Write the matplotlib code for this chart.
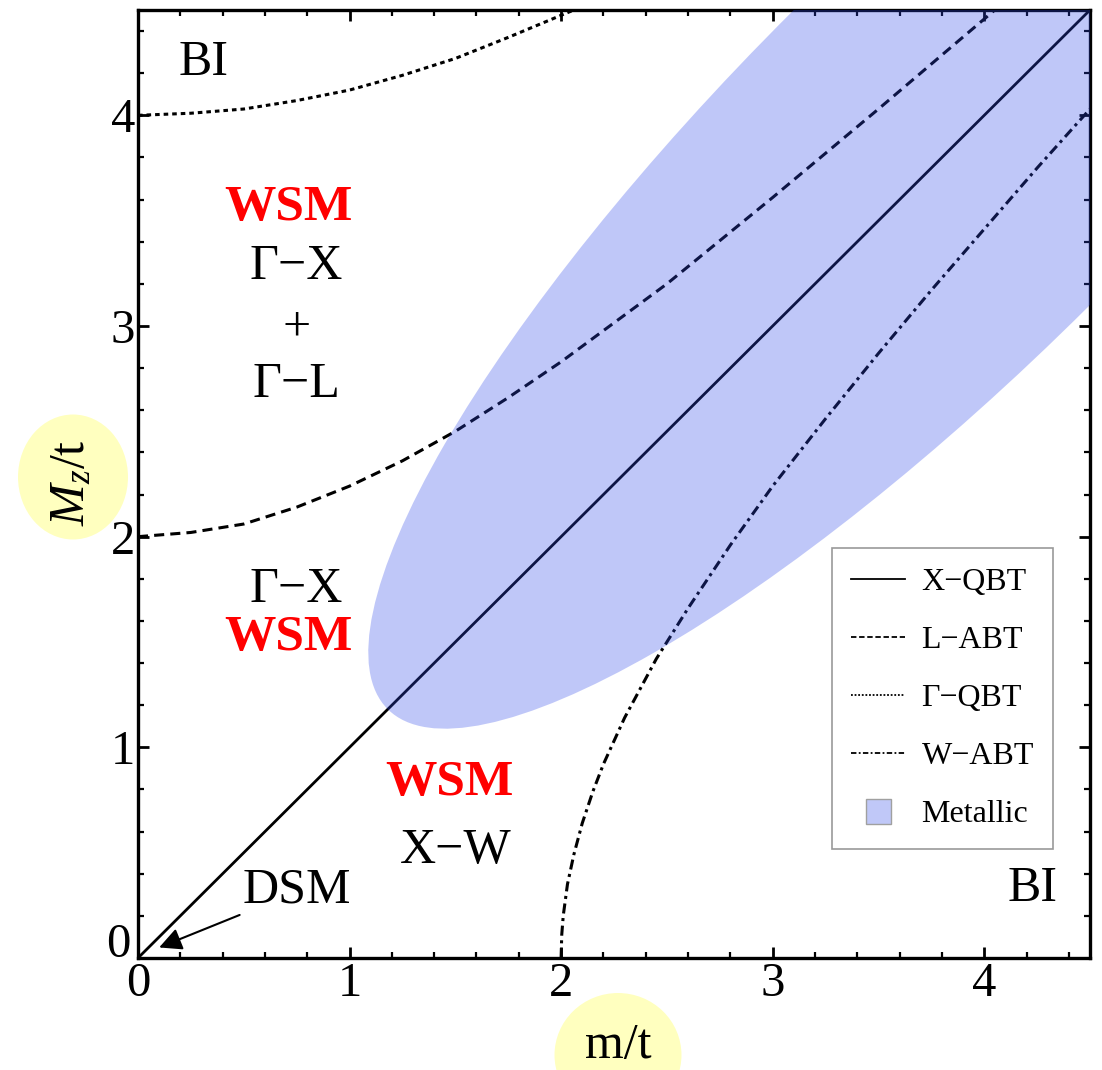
import matplotlib
matplotlib.use("Agg")
import matplotlib.pyplot as plt
from matplotlib.patches import Ellipse
from matplotlib.lines import Line2D

plt.rcParams['font.family'] = ['Liberation Serif', 'DejaVu Serif']
plt.rcParams['mathtext.fontset'] = 'custom'
plt.rcParams['mathtext.rm'] = 'Liberation Serif'
plt.rcParams['mathtext.it'] = 'Liberation Serif:italic'

# === transition lines (m/t, Mz/t) ===
x_qbt_m = [0.0, 4.5]
x_qbt_M = [0.0, 4.5]

l_abt_m = [0.0, 0.25, 0.5, 0.75, 1.0, 1.25, 1.5, 1.75, 2.0, 2.5, 3.0, 3.5, 4.05]
l_abt_M = [2.0, 2.02, 2.06, 2.14, 2.24, 2.36, 2.5, 2.66, 2.83, 3.2, 3.61, 4.03, 4.5]

g_qbt_m = [0.0, 0.25, 0.5, 0.75, 1.0, 1.25, 1.5, 1.75, 2.06]
g_qbt_M = [4.0, 4.01, 4.03, 4.07, 4.12, 4.19, 4.27, 4.37, 4.5]

w_abt_m = [2.0, 2.003, 2.01, 2.03, 2.06, 2.1, 2.15, 2.2, 2.3, 2.45, 2.6, 2.8,
           3.0, 3.25, 3.5, 3.75, 4.0, 4.25, 4.5]
w_abt_M = [0.0, 0.11, 0.2, 0.35, 0.49, 0.64, 0.79, 0.92, 1.14, 1.42, 1.66, 1.96,
           2.24, 2.56, 2.87, 3.17, 3.46, 3.75, 4.03]

# metallic region (ellipse along the diagonal)
metal_center = (3.79, 3.79)
metal_width = 7.38
metal_height = 1.98
metal_angle = 45

# region labels
region_labels = [
    ("BI", 0.31, 4.25, 'black', 'normal'),
    ("WSM", 0.71, 3.56, 'red', 'bold'),
    ("Γ−X", 0.75, 3.28, 'black', 'normal'),
    ("+", 0.75, 2.99, 'black', 'normal'),
    ("Γ−L", 0.75, 2.72, 'black', 'normal'),
    ("Γ−X", 0.75, 1.75, 'black', 'normal'),
    ("WSM", 0.71, 1.52, 'red', 'bold'),
    ("WSM", 1.47, 0.83, 'red', 'bold'),
    ("X−W", 1.50, 0.51, 'black', 'normal'),
    ("BI", 4.23, 0.33, 'black', 'normal'),
]

fig = plt.figure(figsize=(11.02, 10.70), dpi=100)
ax = fig.add_axes([138 / 1102, 112 / 1070, 952 / 1102, 948 / 1070])

ax.plot(x_qbt_m, x_qbt_M, color='black', lw=2.0, solid_capstyle='butt', zorder=2)
ax.plot(l_abt_m, l_abt_M, color='black', lw=2.2, dashes=(3.3, 2.0), zorder=2)
ax.plot(g_qbt_m, g_qbt_M, color='black', lw=2.2, dashes=(1.5, 1.3), zorder=2)
ax.plot(w_abt_m, w_abt_M, color='black', lw=2.2, dashes=(3.3, 1.5, 1.0, 1.5), zorder=2)

ax.add_patch(Ellipse(metal_center, metal_width, metal_height, angle=metal_angle,
                     facecolor=(0.18, 0.28, 0.91), alpha=0.3, edgecolor='none', zorder=3))

for txt, x, y, col, wt in region_labels:
    fs = 37 if wt == 'bold' else 36
    ax.text(x, y, txt, color=col, fontweight=wt, fontsize=fs, ha='center', va='center', zorder=4)

ax.annotate("DSM", xy=(0.10, 0.05), xytext=(0.75, 0.32), fontsize=36,
            ha='center', va='center',
            arrowprops=dict(arrowstyle='-|>', color='black', lw=1.5, mutation_scale=34,
                            shrinkA=0, shrinkB=0, relpos=(0.0, 0.0)))

ax.set_xlim(0, 4.5)
ax.set_ylim(0, 4.5)
ax.set_xticks([0, 1, 2, 3, 4])
ax.set_yticks([0, 1, 2, 3, 4])
ax.set_yticklabels(['', '1', '2', '3', '4'])
ax.set_xticks([i * 0.2 for i in range(23)], minor=True)
ax.set_yticks([i * 0.2 for i in range(23)], minor=True)
ax.tick_params(which='both', direction='in', top=True, right=True, labelsize=35)
ax.tick_params(which='major', length=8, width=2)
ax.tick_params(which='minor', length=4, width=1.6)
ax.tick_params(axis='y', pad=2)
ax.tick_params(axis='x', pad=3)
for sp in ax.spines.values():
    sp.set_linewidth(2.4)

# the y "0" sits a bit higher than its tick
ax.annotate("0", xy=(0, 0), xycoords='axes fraction', xytext=(-14.4, 9.4),
            textcoords='offset points', fontsize=35, ha='center', va='center')

handles = [
    Line2D([], [], color='black', lw=1.3),
    Line2D([], [], color='black', lw=1.3, dashes=(3, 1.5)),
    Line2D([], [], color='black', lw=1.3, dashes=(1, 1)),
    Line2D([], [], color='black', lw=1.3, dashes=(3, 1.3, 1, 1.3)),
    Line2D([], [], ls='none', marker='s', markersize=18, markerfacecolor='#C0C8F8',
           markeredgecolor='#A0A0A0', markeredgewidth=1),
]
labels = ["X−QBT", "L−ABT", "Γ−QBT", "W−ABT", "Metallic"]
leg = ax.legend(handles, labels, loc='upper left', bbox_to_anchor=(0.729, 0.432),
                borderaxespad=0, fontsize=23, fancybox=False, edgecolor='#999999',
                framealpha=1, handlelength=1.7, labelspacing=0.9, borderpad=0.6,
                handletextpad=0.5)
leg.get_frame().set_linewidth(1.2)
leg.set_zorder(6)

# axis labels with yellow highlight
fig.text(72 / 1102, 1 - 483 / 1070, r"$M_z$/t", rotation=90, fontsize=36,
         ha='center', va='center')
fig.text(618 / 1102, 1 - 1046 / 1070, "m/t", fontsize=36, ha='center', va='center')
fig.add_artist(Ellipse((73 / 1102, 1 - 477 / 1070), 110 / 1102, 125 / 1070,
                       transform=fig.transFigure, facecolor='yellow', alpha=0.25,
                       edgecolor='none'))
fig.add_artist(Ellipse((618 / 1102, 1 - 1055 / 1070), 127 / 1102, 124 / 1070,
                       transform=fig.transFigure, facecolor='yellow', alpha=0.25,
                       edgecolor='none'))

fig.savefig("out.png", dpi=100)
